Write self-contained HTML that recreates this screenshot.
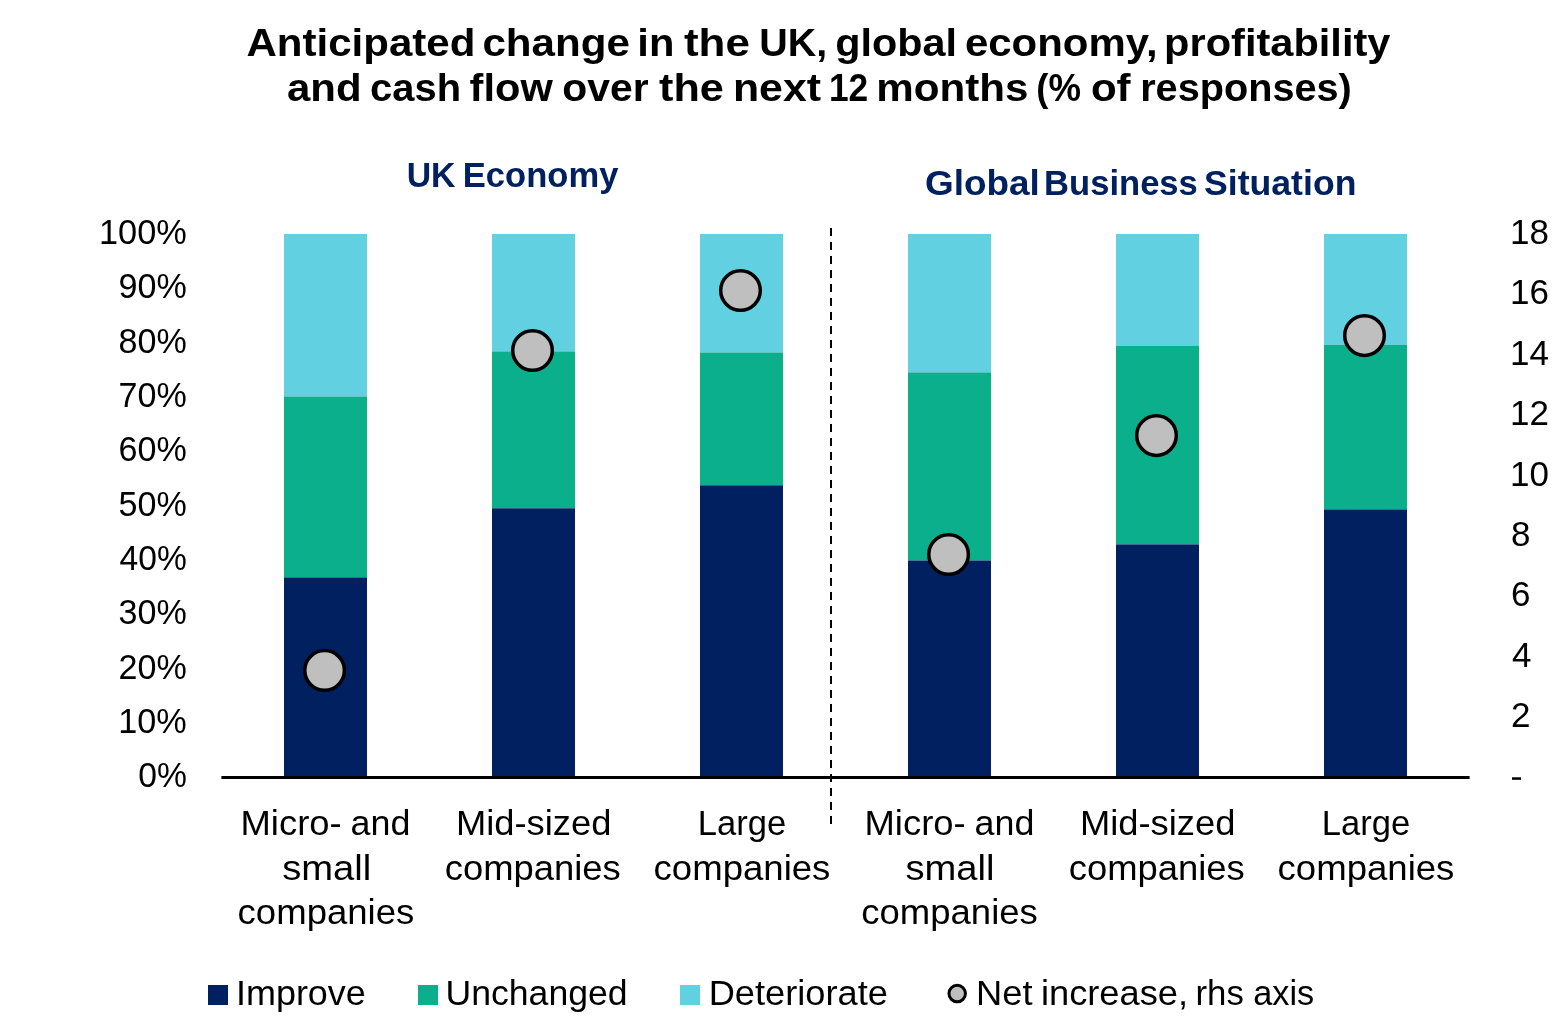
<!DOCTYPE html>
<html>
<head>
<meta charset="utf-8">
<style>
html,body{margin:0;padding:0;background:#ffffff;}
body{width:1564px;height:1031px;overflow:hidden;position:relative;}
svg{position:absolute;left:0;top:0;will-change:transform;}
text{font-family:"Liberation Sans", sans-serif;}
</style>
</head>
<body>
<svg width="1564" height="1031" viewBox="0 0 1564 1031">

<rect x="284" y="234" width="83" height="162.5" fill="#61D0E1"/>
<rect x="284" y="396.5" width="83" height="180.9" fill="#0BAF8C"/>
<rect x="284" y="577.4" width="83" height="198.6" fill="#002060"/>
<rect x="492" y="234" width="83" height="117.4" fill="#61D0E1"/>
<rect x="492" y="351.4" width="83" height="156.9" fill="#0BAF8C"/>
<rect x="492" y="508.3" width="83" height="267.7" fill="#002060"/>
<rect x="700" y="234" width="83" height="118.5" fill="#61D0E1"/>
<rect x="700" y="352.5" width="83" height="132.8" fill="#0BAF8C"/>
<rect x="700" y="485.3" width="83" height="290.7" fill="#002060"/>
<rect x="908" y="234" width="83" height="138.4" fill="#61D0E1"/>
<rect x="908" y="372.4" width="83" height="188.1" fill="#0BAF8C"/>
<rect x="908" y="560.5" width="83" height="215.5" fill="#002060"/>
<rect x="1116" y="234" width="83" height="111.7" fill="#61D0E1"/>
<rect x="1116" y="345.7" width="83" height="198.7" fill="#0BAF8C"/>
<rect x="1116" y="544.4" width="83" height="231.6" fill="#002060"/>
<rect x="1324" y="234" width="83" height="110.8" fill="#61D0E1"/>
<rect x="1324" y="344.8" width="83" height="164.6" fill="#0BAF8C"/>
<rect x="1324" y="509.4" width="83" height="266.6" fill="#002060"/>
<rect x="221.4" y="776" width="1248.2" height="3" fill="#000"/>
<line x1="831" y1="228" x2="831" y2="824" stroke="#000" stroke-width="2" stroke-dasharray="8 6"/>
<rect x="1512" y="777.3" width="9" height="2.5" fill="#000"/>
<g fill="#BFBFBF" stroke="#000" stroke-width="3.5">
<circle cx="324.6" cy="670.4" r="19.8"/>
<circle cx="532.5" cy="350.5" r="19.8"/>
<circle cx="740.5" cy="290.5" r="19.8"/>
<circle cx="948.6" cy="554.5" r="19.8"/>
<circle cx="1156.5" cy="435.6" r="19.8"/>
<circle cx="1364.5" cy="335.6" r="19.8"/>
</g>
<rect x="208" y="985" width="20" height="20" fill="#002060"/>
<rect x="418" y="985" width="20" height="20" fill="#0BAF8C"/>
<rect x="680" y="985" width="20" height="20" fill="#61D0E1"/>
<circle cx="957.2" cy="993.6" r="8.25" fill="#BFBFBF" stroke="#000" stroke-width="3"/>
<text x="246.40" y="55.9" font-size="38.1" font-weight="bold" fill="#000" textLength="229.05" lengthAdjust="spacingAndGlyphs">Anticipated</text>
<text x="482.40" y="55.9" font-size="38.1" font-weight="bold" fill="#000" textLength="147.55" lengthAdjust="spacingAndGlyphs">change</text>
<text x="637.30" y="55.9" font-size="38.1" font-weight="bold" fill="#000" textLength="37.05" lengthAdjust="spacingAndGlyphs">in</text>
<text x="683.90" y="55.9" font-size="38.1" font-weight="bold" fill="#000" textLength="65.95" lengthAdjust="spacingAndGlyphs">the</text>
<text x="759.30" y="55.9" font-size="38.1" font-weight="bold" fill="#000" textLength="67.95" lengthAdjust="spacingAndGlyphs">UK,</text>
<text x="835.30" y="55.9" font-size="38.1" font-weight="bold" fill="#000" textLength="121.75" lengthAdjust="spacingAndGlyphs">global</text>
<text x="964.90" y="55.9" font-size="38.1" font-weight="bold" fill="#000" textLength="192.75" lengthAdjust="spacingAndGlyphs">economy,</text>
<text x="1164.10" y="55.9" font-size="38.1" font-weight="bold" fill="#000" textLength="226.35" lengthAdjust="spacingAndGlyphs">profitability</text>
<text x="286.90" y="100.8" font-size="38.1" font-weight="bold" fill="#000" textLength="74.65" lengthAdjust="spacingAndGlyphs">and</text>
<text x="370.10" y="100.8" font-size="38.1" font-weight="bold" fill="#000" textLength="90.95" lengthAdjust="spacingAndGlyphs">cash</text>
<text x="469.60" y="100.8" font-size="38.1" font-weight="bold" fill="#000" textLength="83.15" lengthAdjust="spacingAndGlyphs">flow</text>
<text x="562.30" y="100.8" font-size="38.1" font-weight="bold" fill="#000" textLength="86.25" lengthAdjust="spacingAndGlyphs">over</text>
<text x="659.00" y="100.8" font-size="38.1" font-weight="bold" fill="#000" textLength="64.85" lengthAdjust="spacingAndGlyphs">the</text>
<text x="732.90" y="100.8" font-size="38.1" font-weight="bold" fill="#000" textLength="88.15" lengthAdjust="spacingAndGlyphs">next</text>
<text x="829.00" y="100.8" font-size="38.1" font-weight="bold" fill="#000" textLength="39.25" lengthAdjust="spacingAndGlyphs">12</text>
<text x="876.30" y="100.8" font-size="38.1" font-weight="bold" fill="#000" textLength="152.25" lengthAdjust="spacingAndGlyphs">months</text>
<text x="1036.30" y="100.8" font-size="38.1" font-weight="bold" fill="#000" textLength="44.75" lengthAdjust="spacingAndGlyphs">(%</text>
<text x="1090.90" y="100.8" font-size="38.1" font-weight="bold" fill="#000" textLength="39.75" lengthAdjust="spacingAndGlyphs">of</text>
<text x="1140.20" y="100.8" font-size="38.1" font-weight="bold" fill="#000" textLength="211.65" lengthAdjust="spacingAndGlyphs">responses)</text>
<text x="406.70" y="187.2" font-size="35.3" font-weight="bold" fill="#002060" textLength="48.82" lengthAdjust="spacingAndGlyphs">UK</text>
<text x="462.80" y="187.2" font-size="35.3" font-weight="bold" fill="#002060" textLength="155.62" lengthAdjust="spacingAndGlyphs">Economy</text>
<text x="925.00" y="195.4" font-size="35.5" font-weight="bold" fill="#002060" textLength="114.84" lengthAdjust="spacingAndGlyphs">Global</text>
<text x="1044.10" y="195.4" font-size="35.5" font-weight="bold" fill="#002060" textLength="153.74" lengthAdjust="spacingAndGlyphs">Business</text>
<text x="1204.00" y="195.4" font-size="35.5" font-weight="bold" fill="#002060" textLength="152.44" lengthAdjust="spacingAndGlyphs">Situation</text>
<text x="99.00" y="244.1" font-size="35.0" font-weight="normal" fill="#000" textLength="87.80" lengthAdjust="spacingAndGlyphs">100%</text>
<text x="118.60" y="298.42" font-size="35.0" font-weight="normal" fill="#000" textLength="68.20" lengthAdjust="spacingAndGlyphs">90%</text>
<text x="118.60" y="352.74" font-size="35.0" font-weight="normal" fill="#000" textLength="68.20" lengthAdjust="spacingAndGlyphs">80%</text>
<text x="118.60" y="407.06" font-size="35.0" font-weight="normal" fill="#000" textLength="68.20" lengthAdjust="spacingAndGlyphs">70%</text>
<text x="118.60" y="461.38" font-size="35.0" font-weight="normal" fill="#000" textLength="68.20" lengthAdjust="spacingAndGlyphs">60%</text>
<text x="118.60" y="515.7" font-size="35.0" font-weight="normal" fill="#000" textLength="68.20" lengthAdjust="spacingAndGlyphs">50%</text>
<text x="119.60" y="570.02" font-size="35.0" font-weight="normal" fill="#000" textLength="67.20" lengthAdjust="spacingAndGlyphs">40%</text>
<text x="118.60" y="624.34" font-size="35.0" font-weight="normal" fill="#000" textLength="68.20" lengthAdjust="spacingAndGlyphs">30%</text>
<text x="118.60" y="678.66" font-size="35.0" font-weight="normal" fill="#000" textLength="68.20" lengthAdjust="spacingAndGlyphs">20%</text>
<text x="118.30" y="732.98" font-size="35.0" font-weight="normal" fill="#000" textLength="68.50" lengthAdjust="spacingAndGlyphs">10%</text>
<text x="138.20" y="787.3" font-size="35.0" font-weight="normal" fill="#000" textLength="48.60" lengthAdjust="spacingAndGlyphs">0%</text>
<text x="1510.00" y="244.0" font-size="35.0" font-weight="normal" fill="#000">18</text>
<text x="1510.00" y="304.38" font-size="35.0" font-weight="normal" fill="#000">16</text>
<text x="1510.00" y="364.75" font-size="35.0" font-weight="normal" fill="#000">14</text>
<text x="1510.00" y="425.12" font-size="35.0" font-weight="normal" fill="#000">12</text>
<text x="1510.00" y="485.5" font-size="35.0" font-weight="normal" fill="#000">10</text>
<text x="1511.00" y="545.88" font-size="35.0" font-weight="normal" fill="#000">8</text>
<text x="1511.00" y="606.25" font-size="35.0" font-weight="normal" fill="#000">6</text>
<text x="1512.00" y="666.62" font-size="35.0" font-weight="normal" fill="#000">4</text>
<text x="1511.00" y="727.0" font-size="35.0" font-weight="normal" fill="#000">2</text>
<text x="240.50" y="835.3" font-size="35.3" font-weight="normal" fill="#000" textLength="101.22" lengthAdjust="spacingAndGlyphs">Micro-</text>
<text x="350.60" y="835.3" font-size="35.3" font-weight="normal" fill="#000" textLength="59.82" lengthAdjust="spacingAndGlyphs">and</text>
<text x="282.20" y="879.6" font-size="35.3" font-weight="normal" fill="#000" textLength="89.12" lengthAdjust="spacingAndGlyphs">small</text>
<text x="237.60" y="924.0" font-size="35.3" font-weight="normal" fill="#000" textLength="176.72" lengthAdjust="spacingAndGlyphs">companies</text>
<text x="456.00" y="835.3" font-size="35.3" font-weight="normal" fill="#000" textLength="155.42" lengthAdjust="spacingAndGlyphs">Mid-sized</text>
<text x="444.80" y="879.6" font-size="35.3" font-weight="normal" fill="#000" textLength="176.02" lengthAdjust="spacingAndGlyphs">companies</text>
<text x="697.80" y="835.3" font-size="35.3" font-weight="normal" fill="#000" textLength="88.42" lengthAdjust="spacingAndGlyphs">Large</text>
<text x="653.60" y="879.6" font-size="35.3" font-weight="normal" fill="#000" textLength="176.82" lengthAdjust="spacingAndGlyphs">companies</text>
<text x="864.50" y="835.3" font-size="35.3" font-weight="normal" fill="#000" textLength="101.22" lengthAdjust="spacingAndGlyphs">Micro-</text>
<text x="974.60" y="835.3" font-size="35.3" font-weight="normal" fill="#000" textLength="59.82" lengthAdjust="spacingAndGlyphs">and</text>
<text x="905.40" y="879.6" font-size="35.3" font-weight="normal" fill="#000" textLength="89.02" lengthAdjust="spacingAndGlyphs">small</text>
<text x="861.30" y="924.0" font-size="35.3" font-weight="normal" fill="#000" textLength="176.52" lengthAdjust="spacingAndGlyphs">companies</text>
<text x="1080.00" y="835.3" font-size="35.3" font-weight="normal" fill="#000" textLength="155.42" lengthAdjust="spacingAndGlyphs">Mid-sized</text>
<text x="1068.80" y="879.6" font-size="35.3" font-weight="normal" fill="#000" textLength="176.02" lengthAdjust="spacingAndGlyphs">companies</text>
<text x="1321.80" y="835.3" font-size="35.3" font-weight="normal" fill="#000" textLength="88.42" lengthAdjust="spacingAndGlyphs">Large</text>
<text x="1277.60" y="879.6" font-size="35.3" font-weight="normal" fill="#000" textLength="176.82" lengthAdjust="spacingAndGlyphs">companies</text>
<text x="236.00" y="1004.5" font-size="35.3" font-weight="normal" fill="#000" textLength="129.82" lengthAdjust="spacingAndGlyphs">Improve</text>
<text x="445.50" y="1004.5" font-size="35.3" font-weight="normal" fill="#000" textLength="182.12" lengthAdjust="spacingAndGlyphs">Unchanged</text>
<text x="708.70" y="1004.5" font-size="35.3" font-weight="normal" fill="#000" textLength="179.22" lengthAdjust="spacingAndGlyphs">Deteriorate</text>
<text x="976.00" y="1004.5" font-size="35.3" font-weight="normal" fill="#000" textLength="56.52" lengthAdjust="spacingAndGlyphs">Net</text>
<text x="1040.90" y="1004.5" font-size="35.3" font-weight="normal" fill="#000" textLength="147.22" lengthAdjust="spacingAndGlyphs">increase,</text>
<text x="1195.50" y="1004.5" font-size="35.3" font-weight="normal" fill="#000" textLength="48.32" lengthAdjust="spacingAndGlyphs">rhs</text>
<text x="1253.30" y="1004.5" font-size="35.3" font-weight="normal" fill="#000" textLength="60.92" lengthAdjust="spacingAndGlyphs">axis</text>
</svg>
</body>
</html>
